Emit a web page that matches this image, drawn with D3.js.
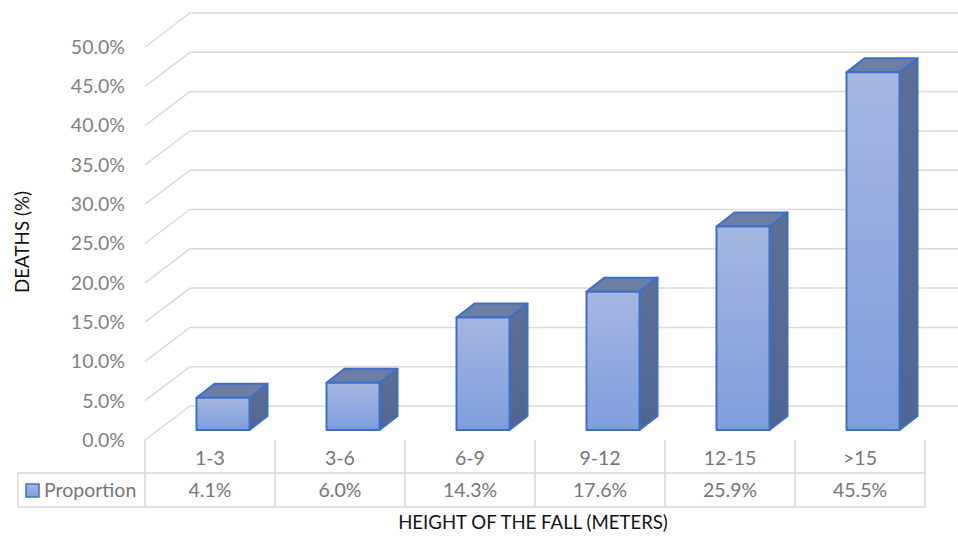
<!DOCTYPE html>
<html>
<head>
<meta charset="utf-8">
<script src="https://cdn.jsdelivr.net/npm/d3@7"></script>
<style>
  body { margin: 0; background: #fff; }
  svg { display: block; }
  text { font-family: Lato, "Open Sans", sans-serif; }
</style>
</head>
<body>
<svg></svg>
<script>
const categories = ["1-3", "3-6", "6-9", "9-12", "12-15", ">15"];
const values = [4.1, 6.0, 14.3, 17.6, 25.9, 45.5];
const seriesName = "Proportion";
const yTicks = [0, 5, 10, 15, 20, 25, 30, 35, 40, 45, 50];

const width = 958;
const height = 538;

const svg = d3.select('svg')
	.attr('width', width)
	.attr('height', height);

// 3d offsets: back wall and bar depth
const wallDx = 45, wallDy = -34;
const barShiftX = 13, barShiftY = -10;
const depthX = 18, depthY = -14;

const x = d3.scaleBand()
	.domain(categories)
	.range([145, 925])
	.padding(0);

const y = d3.scaleLinear()
	.domain([0, 50])
	.range([440, 47]);

const fmt = d => d3.format('.1f')(d) + '%';
const labelSize = 19.5;

const defs = svg.append('defs');
const grad = defs.append('linearGradient')
	.attr('id', 'front')
	.attr('x1', 0).attr('y1', 0).attr('x2', 0).attr('y2', 1);
grad.append('stop').attr('offset', '0%').attr('stop-color', '#a6b6e0');
grad.append('stop').attr('offset', '100%').attr('stop-color', '#7e9edd');

const sideGrad = defs.append('linearGradient')
	.attr('id', 'side')
	.attr('x1', 0).attr('y1', 0).attr('x2', 0).attr('y2', 1);
sideGrad.append('stop').attr('offset', '0%').attr('stop-color', '#5f6f93');
sideGrad.append('stop').attr('offset', '100%').attr('stop-color', '#4f6591');

// gridlines: diagonal on the side wall + horizontal on the back wall
const grid = svg.append('g')
	.attr('stroke', '#d9d9d9')
	.attr('stroke-width', 1.5)
	.attr('fill', 'none');

grid.selectAll('path')
	.data(yTicks)
	.enter().append('path')
		.attr('d', d => 'M' + x.range()[0] + ',' + y(d) +
			'L' + (x.range()[0] + wallDx) + ',' + (y(d) + wallDy) +
			'L' + (width + 20) + ',' + (y(d) + wallDy));

// y tick labels
svg.append('g')
	.selectAll('text')
	.data(yTicks)
	.enter().append('text')
		.attr('x', 125)
		.attr('y', d => y(d))
		.attr('dy', '0.35em')
		.attr('text-anchor', 'end')
		.attr('font-size', labelSize)
		.attr('fill', '#7f7f7f')
		.text(fmt);

// bars
const bars = svg.append('g')
	.selectAll('g')
	.data(categories.map((c, i) => ({cat: c, v: values[i]})))
	.enter().append('g')
		.attr('stroke', '#3c6fc8')
		.attr('stroke-width', 2)
		.attr('stroke-linejoin', 'round');

const barW = 53;
const bx0 = d => x(d.cat) + x.bandwidth() / 2 + barShiftX - barW / 2;
const bx1 = d => bx0(d) + barW;
const byTop = d => y(d.v) + barShiftY;
const byBot = d => y(0) + barShiftY;

bars.append('path')
	.attr('fill', 'url(#side)')
	.attr('d', d => 'M' + bx1(d) + ',' + byTop(d) +
		'L' + (bx1(d) + depthX) + ',' + (byTop(d) + depthY) +
		'L' + (bx1(d) + depthX) + ',' + (byBot(d) + depthY) +
		'L' + bx1(d) + ',' + byBot(d) + 'Z');

bars.append('path')
	.attr('fill', '#6d7ea5')
	.attr('d', d => 'M' + bx0(d) + ',' + byTop(d) +
		'L' + (bx0(d) + depthX) + ',' + (byTop(d) + depthY) +
		'L' + (bx1(d) + depthX) + ',' + (byTop(d) + depthY) +
		'L' + bx1(d) + ',' + byTop(d) + 'Z');

bars.append('rect')
	.attr('fill', 'url(#front)')
	.attr('x', bx0)
	.attr('y', byTop)
	.attr('width', barW)
	.attr('height', d => byBot(d) - byTop(d));

// data table
const tTop = y(0), tMid = 473, tBot = 507, tLeft = 18;
const table = svg.append('g')
	.attr('stroke', '#d9d9d9')
	.attr('stroke-width', 1.5);

table.selectAll('line.v')
	.data(categories.concat(['end']))
	.enter().append('line')
		.attr('x1', (d, i) => i < categories.length ? x(d) : x.range()[1])
		.attr('x2', (d, i) => i < categories.length ? x(d) : x.range()[1])
		.attr('y1', tTop)
		.attr('y2', tBot);

table.append('line')
	.attr('x1', tLeft).attr('x2', x.range()[1])
	.attr('y1', tMid).attr('y2', tMid);
table.append('line')
	.attr('x1', tLeft).attr('x2', x.range()[1])
	.attr('y1', tBot).attr('y2', tBot);
table.append('line')
	.attr('x1', tLeft).attr('x2', tLeft)
	.attr('y1', tMid).attr('y2', tBot);

svg.append('g')
	.selectAll('text')
	.data(categories)
	.enter().append('text')
		.attr('x', d => x(d) + x.bandwidth() / 2)
		.attr('y', (tTop + tMid) / 2 + 2)
		.attr('dy', '0.35em')
		.attr('text-anchor', 'middle')
		.attr('font-size', labelSize)
		.attr('fill', '#767676')
		.text(d => d);

svg.append('g')
	.selectAll('text')
	.data(values)
	.enter().append('text')
		.attr('x', (d, i) => x(categories[i]) + x.bandwidth() / 2)
		.attr('y', (tMid + tBot) / 2)
		.attr('dy', '0.35em')
		.attr('text-anchor', 'middle')
		.attr('font-size', labelSize)
		.attr('fill', '#767676')
		.text(fmt);

// legend key in the table
svg.append('rect')
	.attr('x', 26).attr('y', 484)
	.attr('width', 13).attr('height', 13)
	.attr('fill', 'url(#front)')
	.attr('stroke', '#3c6fc8')
	.attr('stroke-width', 1.5);

svg.append('text')
	.attr('x', 44)
	.attr('y', (tMid + tBot) / 2)
	.attr('dy', '0.35em')
	.attr('font-size', labelSize)
	.attr('fill', '#767676')
	.text(seriesName);

// axis titles
svg.append('text')
	.attr('transform', 'translate(22,242) rotate(-90)')
	.attr('dy', '0.35em')
	.attr('text-anchor', 'middle')
	.attr('font-size', 18.8)
	.attr('fill', '#111')
	.text('DEATHS (%)');

svg.append('text')
	.attr('x', 533)
	.attr('y', 522)
	.attr('dy', '0.35em')
	.attr('text-anchor', 'middle')
	.attr('font-size', 18.6)
	.attr('fill', '#111')
	.text('HEIGHT OF THE FALL (METERS)');
</script>
</body>
</html>
